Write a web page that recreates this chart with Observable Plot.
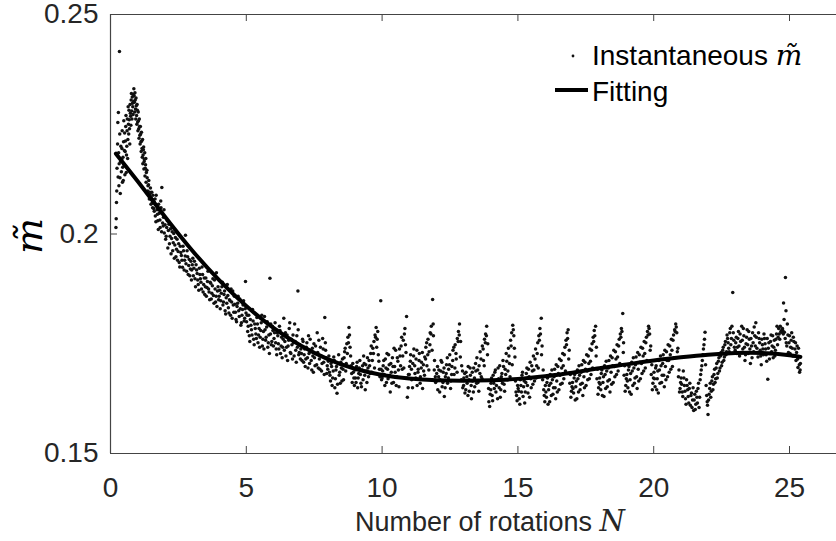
<!DOCTYPE html>
<html><head><meta charset="utf-8">
<script src="https://cdn.jsdelivr.net/npm/d3@7"></script>
<script src="https://cdn.jsdelivr.net/npm/@observablehq/plot@0.6"></script>
<style>html,body{margin:0;padding:0;background:#fff} svg{display:block}</style>
</head><body><div id="chart"></div>
<script>
const xTicks = [0, 5, 10, 15, 20, 25];
const yTicks = [0.15, 0.2, 0.25];
const xLabel = "Number of rotations ";
const xLabelVar = "N";
const yLabel = "m\u0303";
const legendDots = "Instantaneous ";
const legendLine = "Fitting";

// Fitting curve
const fitN = [0.2, 1, 2, 3, 4, 5, 6, 7, 8, 9, 10, 11, 12, 13, 14, 15, 16, 17, 18, 19, 20, 21, 22, 23, 24, 25, 25.4];
const fitM = [0.2183, 0.2120, 0.2040, 0.1963, 0.1895, 0.1836, 0.1786, 0.1746, 0.1715, 0.1693, 0.1679, 0.1671, 0.1667, 0.1666, 0.1667, 0.1670, 0.1676, 0.1684, 0.1694, 0.1703, 0.1712, 0.1719, 0.1725, 0.1729, 0.1729, 0.1724, 0.1720];

// Instantaneous m~ samples [N, m] (first pass)
const instantaneousA = [
[0.20,0.2015],[0.21,0.2035],[0.22,0.2072],[0.24,0.2150],[0.25,0.2182],[0.27,0.2254],[0.29,0.2277],[0.31,0.2110],[0.33,0.2416],[0.35,0.2128],[0.37,0.2165],[0.40,0.2142],[0.42,0.2195],[0.44,0.2118],[0.46,0.2175],[0.48,0.2210],[0.50,0.2158],[0.52,0.2230],[0.54,0.2188],[0.56,0.2245],[0.58,0.2140],[0.60,0.2200],
[0.62,0.2262],[0.64,0.2215],[0.66,0.2250],[0.68,0.2282],[0.70,0.2240],[0.72,0.2295],[0.74,0.2268],[0.76,0.2305],[0.78,0.2280],[0.80,0.2312],[0.82,0.2290],[0.84,0.2318],[0.86,0.2331],[0.88,0.2300],[0.90,0.2322],[0.92,0.2285],[0.94,0.2310],[0.96,0.2270],[0.98,0.2295],
[1.00,0.2255],[1.02,0.2278],[1.04,0.2240],[1.06,0.2262],[1.08,0.2225],[1.10,0.2245],[1.12,0.2210],[1.14,0.2232],[1.16,0.2195],[1.18,0.2215],[1.20,0.2180],[1.22,0.2198],[1.24,0.2165],[1.26,0.2185],[1.28,0.2150],[1.30,0.2172],[1.32,0.2140],[1.35,0.2128],[1.38,0.2110],[1.41,0.2122],[1.44,0.2095],[1.47,0.2105],[1.50,0.2082],[1.53,0.2070],[1.56,0.2088],[1.59,0.2058],
[1.62,0.2072],[1.65,0.2041],[1.68,0.2088],[1.71,0.2055],[1.74,0.2030],[1.77,0.2068],[1.80,0.2047],[1.83,0.2015],[1.86,0.2060],[1.89,0.2106],[1.92,0.2025],[1.95,0.2038],[1.98,0.2002],
[2.01,0.2021],[2.05,0.1995],[2.09,0.2030],[2.13,0.2008],[2.17,0.1978],[2.21,0.2012],[2.25,0.1990],[2.29,0.1962],[2.33,0.2001],[2.37,0.1975],[2.41,0.1948],[2.45,0.1988],[2.49,0.1960],[2.53,0.1935],[2.57,0.1972],[2.61,0.1951],[2.65,0.1924],[2.69,0.1962],[2.73,0.1940],[2.76,0.1997],[2.80,0.1915],[2.84,0.1948],[2.88,0.1928],[2.92,0.1905],[2.96,0.1938],[2.99,0.1918],
[3.03,0.1945],[3.07,0.1922],[3.11,0.1898],[3.15,0.1930],[3.19,0.1910],[3.23,0.1885],[3.27,0.1922],[3.31,0.1898],[3.35,0.1875],[3.39,0.1908],[3.43,0.1885],[3.47,0.1862],[3.51,0.1900],[3.55,0.1878],[3.59,0.1915],[3.63,0.1868],[3.67,0.1890],[3.71,0.1852],[3.75,0.1882],[3.79,0.1860],[3.83,0.1895],[3.87,0.1845],[3.90,0.1912],[3.94,0.1870],[3.98,0.1850],
[4.02,0.1872],[4.06,0.1848],[4.10,0.1880],[4.14,0.1838],[4.18,0.1862],[4.22,0.1825],[4.26,0.1855],[4.30,0.1885],[4.34,0.1832],[4.38,0.1850],[4.42,0.1815],[4.46,0.1845],[4.50,0.1870],[4.54,0.1822],[4.58,0.1840],[4.62,0.1805],[4.66,0.1835],[4.70,0.1858],[4.74,0.1812],[4.78,0.1830],[4.82,0.1798],[4.86,0.1828],[4.90,0.1848],[4.94,0.1808],[4.97,0.1892],[4.99,0.1820],
[5.03,0.1815],[5.07,0.1790],[5.11,0.1768],[5.15,0.1805],[5.19,0.1782],[5.23,0.1828],[5.27,0.1760],[5.31,0.1795],[5.35,0.1772],[5.39,0.1810],[5.43,0.1752],[5.47,0.1785],[5.51,0.1765],[5.55,0.1798],[5.59,0.1745],[5.63,0.1778],[5.67,0.1812],[5.71,0.1758],[5.75,0.1788],[5.79,0.1742],[5.83,0.1770],[5.87,0.1899],[5.90,0.1795],[5.94,0.1755],[5.98,0.1780],
[6.02,0.1762],[6.06,0.1798],[6.10,0.1738],[6.14,0.1775],[6.18,0.1750],[6.22,0.1790],[6.26,0.1728],[6.30,0.1765],[6.34,0.1742],[6.38,0.1808],[6.42,0.1755],[6.46,0.1722],[6.50,0.1770],[6.54,0.1745],[6.58,0.1785],[6.62,0.1730],[6.66,0.1760],[6.70,0.1715],[6.74,0.1752],[6.78,0.1795],[6.82,0.1735],[6.86,0.1768],[6.90,0.1870],[6.93,0.1725],[6.97,0.1748],
[7.01,0.1738],[7.05,0.1712],[7.09,0.1755],[7.13,0.1725],[7.17,0.1698],[7.21,0.1742],[7.25,0.1718],[7.29,0.1768],[7.33,0.1705],[7.37,0.1732],[7.41,0.1690],[7.45,0.1722],[7.49,0.1750],[7.53,0.1700],[7.57,0.1728],[7.61,0.1775],[7.65,0.1695],[7.69,0.1715],[7.73,0.1742],[7.77,0.1688],[7.81,0.1762],[7.85,0.1708],[7.89,0.1810],[7.92,0.1735],[7.96,0.1682],
[8.02,0.1710],[8.06,0.1685],[8.10,0.1665],[8.14,0.1698],[8.18,0.1672],[8.22,0.1720],[8.26,0.1650],[8.30,0.1690],[8.34,0.1637],[8.38,0.1705],[8.42,0.1678],[8.46,0.1660],[8.50,0.1695],[8.54,0.1715],[8.58,0.1668],[8.62,0.1732],[8.66,0.1688],[8.70,0.1750],[8.74,0.1765],[8.78,0.1787],[8.82,0.1742],[8.86,0.1700],[8.90,0.1662],[8.94,0.1685],[8.98,0.1655],
[9.02,0.1672],[9.06,0.1698],[9.10,0.1650],[9.14,0.1682],[9.18,0.1712],[9.22,0.1660],[9.26,0.1690],[9.30,0.1668],[9.34,0.1705],[9.38,0.1645],[9.42,0.1688],[9.46,0.1718],[9.50,0.1675],[9.54,0.1700],[9.58,0.1728],[9.62,0.1685],[9.66,0.1740],[9.70,0.1755],[9.74,0.1770],[9.78,0.1787],[9.82,0.1760],[9.86,0.1725],[9.90,0.1692],[9.95,0.1848],[9.98,0.1668],
[10.02,0.1688],[10.06,0.1712],[10.10,0.1655],[10.14,0.1695],[10.18,0.1728],[10.22,0.1670],[10.26,0.1702],[10.30,0.1640],[10.34,0.1685],[10.38,0.1718],[10.42,0.1662],[10.46,0.1698],[10.50,0.1735],[10.54,0.1675],[10.58,0.1710],[10.62,0.1652],[10.66,0.1722],[10.70,0.1745],[10.74,0.1692],[10.78,0.1758],[10.82,0.1772],[10.86,0.1748],[10.90,0.1812],[10.93,0.1628],[10.97,0.1680],
[11.01,0.1698],[11.05,0.1725],[11.09,0.1668],[11.13,0.1705],[11.17,0.1738],[11.21,0.1682],[11.25,0.1715],[11.29,0.1655],[11.33,0.1692],[11.37,0.1728],[11.41,0.1675],[11.45,0.1708],[11.49,0.1648],[11.53,0.1688],[11.57,0.1720],[11.61,0.1742],[11.65,0.1700],[11.69,0.1760],[11.73,0.1732],[11.77,0.1775],[11.81,0.1790],[11.86,0.1851],[11.89,0.1768],[11.93,0.1712],[11.97,0.1662],
[12.01,0.1682],[12.05,0.1645],[12.09,0.1690],[12.13,0.1668],[12.17,0.1712],[12.21,0.1652],[12.25,0.1685],[12.29,0.1630],[12.33,0.1675],[12.37,0.1702],[12.41,0.1660],[12.45,0.1692],[12.49,0.1725],[12.53,0.1665],[12.57,0.1698],[12.61,0.1735],[12.65,0.1680],[12.69,0.1748],[12.73,0.1715],[12.77,0.1762],[12.81,0.1778],[12.85,0.1795],[12.89,0.1755],[12.93,0.1700],[12.97,0.1650],
[13.01,0.1672],[13.05,0.1638],[13.09,0.1685],[13.13,0.1660],[13.17,0.1698],[13.21,0.1642],[13.25,0.1678],[13.29,0.1625],[13.33,0.1665],[13.37,0.1695],[13.41,0.1652],[13.45,0.1688],[13.49,0.1718],[13.53,0.1662],[13.57,0.1700],[13.61,0.1732],[13.65,0.1675],[13.69,0.1745],[13.73,0.1712],[13.77,0.1760],[13.81,0.1772],[13.85,0.1790],[13.89,0.1750],[13.93,0.1618],[13.96,0.1607],
[14.01,0.1660],[14.05,0.1632],[14.09,0.1678],[14.13,0.1648],[14.17,0.1690],[14.21,0.1655],[14.25,0.1625],[14.29,0.1670],[14.33,0.1700],[14.37,0.1645],[14.41,0.1682],[14.45,0.1712],[14.49,0.1658],[14.53,0.1692],[14.57,0.1728],[14.61,0.1668],[14.65,0.1740],[14.69,0.1705],[14.73,0.1758],[14.77,0.1775],[14.81,0.1792],[14.85,0.1768],[14.89,0.1720],[14.93,0.1640],[14.97,0.1620],
[15.01,0.1648],[15.05,0.1625],[15.09,0.1668],[15.13,0.1640],[15.17,0.1685],[15.21,0.1652],[15.25,0.1615],[15.29,0.1662],[15.33,0.1695],[15.37,0.1638],[15.41,0.1675],[15.45,0.1708],[15.49,0.1650],[15.53,0.1688],[15.57,0.1722],[15.61,0.1665],[15.65,0.1738],[15.69,0.1700],[15.73,0.1752],[15.77,0.1768],[15.81,0.1785],[15.86,0.1808],[15.89,0.1745],[15.93,0.1690],[15.97,0.1632],
[16.01,0.1655],[16.05,0.1628],[16.09,0.1672],[16.13,0.1645],[16.17,0.1618],[16.21,0.1660],[16.25,0.1690],[16.29,0.1635],[16.33,0.1675],[16.37,0.1650],[16.41,0.1702],[16.45,0.1640],[16.49,0.1682],[16.53,0.1715],[16.57,0.1658],[16.61,0.1695],[16.65,0.1728],[16.69,0.1670],[16.73,0.1742],[16.77,0.1758],[16.81,0.1775],[16.85,0.1782],[16.89,0.1735],[16.93,0.1680],[16.97,0.1642],
[17.01,0.1662],[17.05,0.1638],[17.09,0.1680],[17.13,0.1652],[17.17,0.1625],[17.21,0.1670],[17.25,0.1700],[17.29,0.1645],[17.33,0.1685],[17.37,0.1660],[17.41,0.1712],[17.45,0.1650],[17.49,0.1692],[17.53,0.1725],[17.57,0.1668],[17.61,0.1705],[17.65,0.1738],[17.69,0.1680],[17.73,0.1750],[17.77,0.1765],[17.81,0.1780],[17.86,0.1790],[17.89,0.1742],[17.93,0.1692],[17.97,0.1650],
[18.01,0.1672],[18.05,0.1645],[18.09,0.1690],[18.13,0.1662],[18.17,0.1630],[18.21,0.1680],[18.25,0.1710],[18.29,0.1652],[18.33,0.1695],[18.37,0.1668],[18.41,0.1722],[18.45,0.1658],[18.49,0.1700],[18.53,0.1735],[18.57,0.1675],[18.61,0.1715],[18.65,0.1748],[18.69,0.1688],[18.73,0.1760],[18.77,0.1772],[18.81,0.1785],[18.86,0.1819],[18.89,0.1752],[18.93,0.1700],[18.97,0.1655],
[19.01,0.1680],[19.05,0.1650],[19.09,0.1698],[19.13,0.1668],[19.17,0.1635],[19.21,0.1688],[19.25,0.1718],[19.29,0.1660],[19.33,0.1702],[19.37,0.1675],[19.41,0.1730],[19.45,0.1665],[19.49,0.1708],[19.53,0.1742],[19.57,0.1682],[19.61,0.1722],[19.65,0.1755],[19.69,0.1695],[19.73,0.1765],[19.77,0.1778],[19.81,0.1790],[19.85,0.1772],[19.89,0.1745],[19.93,0.1702],[19.97,0.1660],
[20.01,0.1685],[20.05,0.1652],[20.09,0.1700],[20.13,0.1670],[20.17,0.1638],[20.21,0.1690],[20.25,0.1722],[20.29,0.1662],[20.33,0.1705],[20.37,0.1678],[20.41,0.1735],[20.45,0.1668],[20.49,0.1712],[20.53,0.1748],[20.57,0.1685],[20.61,0.1725],[20.65,0.1760],[20.69,0.1698],[20.73,0.1770],[20.77,0.1782],[20.81,0.1795],[20.85,0.1775],[20.89,0.1740],[20.93,0.1690],[20.97,0.1648],
[21.01,0.1672],[21.05,0.1640],[21.09,0.1688],[21.13,0.1655],[21.17,0.1625],[21.21,0.1668],[21.25,0.1645],[21.29,0.1615],[21.33,0.1660],[21.37,0.1632],[21.41,0.1605],[21.45,0.1650],[21.49,0.1622],[21.53,0.1600],[21.57,0.1642],[21.61,0.1615],[21.65,0.1660],[21.69,0.1628],[21.73,0.1680],[21.77,0.1700],[21.81,0.1725],[21.85,0.1748],[21.89,0.1776],[21.93,0.1655],[21.97,0.1618],
[22.00,0.1589],[22.04,0.1635],[22.08,0.1660],[22.12,0.1642],[22.16,0.1675],[22.20,0.1658],[22.24,0.1692],[22.28,0.1670],[22.32,0.1705],[22.36,0.1682],[22.40,0.1718],[22.44,0.1695],[22.48,0.1730],[22.52,0.1708],[22.56,0.1742],[22.60,0.1720],[22.64,0.1755],[22.68,0.1732],[22.72,0.1762],[22.76,0.1740],[22.80,0.1775],[22.84,0.1748],[22.88,0.1790],[22.91,0.1867],[22.95,0.1758],
[23.00,0.1735],[23.04,0.1765],[23.08,0.1742],[23.12,0.1778],[23.16,0.1722],[23.20,0.1755],[23.24,0.1790],[23.28,0.1738],[23.32,0.1768],[23.36,0.1712],[23.40,0.1750],[23.44,0.1782],[23.48,0.1728],[23.52,0.1760],[23.56,0.1705],[23.60,0.1745],[23.64,0.1775],[23.68,0.1732],[23.72,0.1768],[23.76,0.1798],[23.80,0.1740],[23.84,0.1720],[23.88,0.1762],[23.92,0.1735],[23.96,0.1702],
[24.00,0.1748],[24.04,0.1725],[24.08,0.1762],[24.12,0.1738],[24.16,0.1710],[24.20,0.1669],[24.24,0.1752],[24.28,0.1728],[24.32,0.1770],[24.36,0.1745],[24.40,0.1718],[24.44,0.1758],[24.48,0.1735],[24.52,0.1772],[24.56,0.1748],[24.60,0.1785],[24.64,0.1760],[24.68,0.1778],[24.72,0.1782],[24.75,0.1780],[24.78,0.1843],[24.81,0.1776],[24.85,0.1901],[24.88,0.1752],[24.92,0.1795],[24.96,0.1730],
[25.00,0.1768],[25.04,0.1742],[25.08,0.1775],[25.12,0.1722],[25.16,0.1755],[25.20,0.1738],[25.24,0.1712],[25.28,0.1745],[25.31,0.1696],[25.34,0.1720],[25.37,0.1685],[25.40,0.1705]
];

// Instantaneous m~ samples [N, m] (second pass, in between)
const instantaneousB = [
[0.23,0.2098],[0.26,0.2205],[0.28,0.2130],[0.30,0.2185],[0.32,0.2160],[0.34,0.2228],[0.36,0.2092],[0.38,0.2200],[0.41,0.2170],[0.43,0.2235],[0.45,0.2152],[0.47,0.2122],[0.49,0.2258],[0.51,0.2190],[0.53,0.2135],[0.55,0.2212],[0.57,0.2270],[0.59,0.2180],[0.61,0.2235],[0.63,0.2172],[0.65,0.2290],[0.67,0.2228],[0.69,0.2260],[0.71,0.2205],[0.73,0.2275],[0.75,0.2248],[0.77,0.2320],[0.79,0.2262],[0.81,0.2298],[0.83,0.2272],[0.85,0.2302],[0.87,0.2315],[0.89,0.2278],[0.91,0.2305],[0.93,0.2262],[0.95,0.2292],[0.97,0.2250],[0.99,0.2282],[1.01,0.2235],[1.03,0.2258],[1.05,0.2218],[1.07,0.2245],[1.09,0.2205],[1.11,0.2228],[1.13,0.2188],[1.15,0.2212],[1.17,0.2175],[1.19,0.2160],[1.21,0.2192],[1.23,0.2148],[1.25,0.2170],[1.27,0.2132],[1.29,0.2158],[1.31,0.2118],[1.34,0.2145],[1.37,0.2098],[1.40,0.2112],[1.43,0.2080],[1.46,0.2092],[1.49,0.2068],[1.52,0.2095],[1.55,0.2060],[1.58,0.2078],
[1.61,0.2052],[1.64,0.2080],[1.67,0.2028],[1.70,0.2065],[1.73,0.2045],[1.76,0.2010],[1.79,0.2058],[1.82,0.2032],[1.85,0.2075],[1.88,0.2005],[1.91,0.2048],[1.94,0.2018],[1.97,0.2055],[2.03,0.1988],[2.07,0.2015],[2.11,0.1968],[2.15,0.2022],[2.19,0.1995],[2.23,0.1955],[2.27,0.2005],[2.31,0.1980],[2.35,0.1945],[2.39,0.1992],[2.43,0.1965],[2.47,0.1940],[2.51,0.1978],[2.55,0.1925],[2.59,0.1958],[2.63,0.1940],[2.67,0.1972],[2.71,0.1918],[2.75,0.1950],[2.78,0.1932],[2.82,0.1962],[2.86,0.1908],[2.90,0.1942],[2.94,0.1920],[2.98,0.1895],
[3.01,0.1930],[3.05,0.1905],[3.09,0.1938],[3.13,0.1880],[3.17,0.1918],[3.21,0.1895],[3.25,0.1872],[3.29,0.1908],[3.33,0.1890],[3.37,0.1925],[3.41,0.1868],[3.45,0.1900],[3.49,0.1880],[3.53,0.1858],[3.57,0.1892],[3.61,0.1875],[3.65,0.1850],[3.69,0.1888],[3.73,0.1865],[3.77,0.1898],[3.81,0.1842],[3.85,0.1875],[3.89,0.1858],[3.92,0.1835],[3.96,0.1880],
[4.00,0.1858],[4.04,0.1830],[4.08,0.1865],[4.12,0.1890],[4.16,0.1845],[4.20,0.1870],[4.24,0.1818],[4.28,0.1842],[4.32,0.1860],[4.36,0.1820],[4.40,0.1848],[4.44,0.1875],[4.48,0.1808],[4.52,0.1838],[4.56,0.1858],[4.60,0.1822],[4.64,0.1800],[4.68,0.1842],[4.72,0.1825],[4.76,0.1852],[4.80,0.1792],[4.84,0.1815],[4.88,0.1838],[4.92,0.1802],[4.96,0.1830],
[5.01,0.1800],[5.05,0.1778],[5.09,0.1815],[5.13,0.1755],[5.17,0.1792],[5.21,0.1770],[5.25,0.1802],[5.29,0.1748],[5.33,0.1785],[5.37,0.1762],[5.41,0.1795],[5.45,0.1770],[5.49,0.1742],[5.53,0.1780],[5.57,0.1815],[5.61,0.1760],[5.65,0.1738],[5.69,0.1782],[5.73,0.1765],[5.77,0.1800],[5.81,0.1752],[5.85,0.1728],[5.89,0.1772],[5.92,0.1748],[5.96,0.1790],
[6.00,0.1745],[6.04,0.1775],[6.08,0.1752],[6.12,0.1725],[6.16,0.1768],[6.20,0.1738],[6.24,0.1780],[6.28,0.1745],[6.32,0.1718],[6.36,0.1760],[6.40,0.1735],[6.44,0.1775],[6.48,0.1742],[6.52,0.1712],[6.56,0.1758],[6.60,0.1798],[6.64,0.1728],[6.68,0.1748],[6.72,0.1770],[6.76,0.1722],[6.80,0.1755],[6.84,0.1708],[6.88,0.1742],[6.91,0.1782],[6.95,0.1730],[6.99,0.1715],
[7.03,0.1728],[7.07,0.1760],[7.11,0.1708],[7.15,0.1738],[7.19,0.1715],[7.23,0.1752],[7.27,0.1695],[7.31,0.1728],[7.35,0.1760],[7.39,0.1712],[7.43,0.1740],[7.47,0.1685],[7.51,0.1718],[7.55,0.1745],[7.59,0.1702],[7.63,0.1730],[7.67,0.1758],[7.71,0.1692],[7.75,0.1722],[7.79,0.1705],[7.83,0.1738],[7.87,0.1680],[7.91,0.1752],[7.94,0.1718],[7.98,0.1700],
[8.00,0.1692],[8.04,0.1722],[8.08,0.1678],[8.12,0.1705],[8.16,0.1655],[8.20,0.1688],[8.24,0.1712],[8.28,0.1670],[8.32,0.1698],[8.36,0.1658],[8.40,0.1725],[8.44,0.1685],[8.48,0.1708],[8.52,0.1665],[8.56,0.1692],[8.60,0.1718],[8.64,0.1740],[8.68,0.1705],[8.72,0.1728],[8.76,0.1752],[8.80,0.1770],[8.84,0.1722],[8.88,0.1682],[8.92,0.1705],[8.96,0.1672],
[9.00,0.1690],[9.04,0.1662],[9.08,0.1708],[9.12,0.1672],[9.16,0.1695],[9.20,0.1680],[9.24,0.1652],[9.28,0.1700],[9.32,0.1722],[9.36,0.1678],[9.40,0.1702],[9.44,0.1662],[9.48,0.1695],[9.52,0.1712],[9.56,0.1682],[9.60,0.1745],[9.64,0.1712],[9.68,0.1728],[9.72,0.1695],[9.76,0.1765],[9.80,0.1742],[9.84,0.1778],[9.88,0.1710],[9.92,0.1675],[9.96,0.1692],
[10.00,0.1672],[10.04,0.1700],[10.08,0.1680],[10.12,0.1715],[10.16,0.1662],[10.20,0.1692],[10.24,0.1725],[10.28,0.1678],[10.32,0.1705],[10.36,0.1660],[10.40,0.1698],[10.44,0.1740],[10.48,0.1685],[10.52,0.1655],[10.56,0.1718],[10.60,0.1690],[10.64,0.1738],[10.68,0.1700],[10.72,0.1765],[10.76,0.1722],[10.80,0.1695],[10.84,0.1785],[10.88,0.1730],[10.92,0.1672],[10.96,0.1650],
[11.00,0.1680],[11.04,0.1710],[11.08,0.1692],[11.12,0.1650],[11.16,0.1722],[11.20,0.1700],[11.24,0.1672],[11.28,0.1735],[11.32,0.1685],[11.36,0.1712],[11.40,0.1660],[11.44,0.1695],[11.48,0.1730],[11.52,0.1702],[11.56,0.1678],[11.60,0.1715],[11.64,0.1752],[11.68,0.1725],[11.72,0.1690],[11.76,0.1748],[11.80,0.1772],[11.84,0.1735],[11.88,0.1795],[11.92,0.1690],[11.96,0.1675],
[12.00,0.1665],[12.04,0.1698],[12.08,0.1675],[12.12,0.1640],[12.16,0.1688],[12.20,0.1708],[12.24,0.1662],[12.28,0.1695],[12.32,0.1650],[12.36,0.1682],[12.40,0.1718],[12.44,0.1672],[12.48,0.1702],[12.52,0.1648],[12.56,0.1680],[12.60,0.1712],[12.64,0.1742],[12.68,0.1695],[12.72,0.1728],[12.76,0.1685],[12.80,0.1755],[12.84,0.1770],[12.88,0.1720],[12.92,0.1668],[12.96,0.1688],
[13.00,0.1655],[13.04,0.1682],[13.08,0.1645],[13.12,0.1675],[13.16,0.1632],[13.20,0.1668],[13.24,0.1695],[13.28,0.1655],[13.32,0.1685],[13.36,0.1640],[13.40,0.1672],[13.44,0.1705],[13.48,0.1660],[13.52,0.1690],[13.56,0.1642],[13.60,0.1682],[13.64,0.1715],[13.68,0.1670],[13.72,0.1738],[13.76,0.1700],[13.80,0.1752],[13.84,0.1768],[13.88,0.1725],[13.92,0.1648],[13.98,0.1635],
[14.00,0.1645],[14.03,0.1672],[14.07,0.1620],[14.11,0.1660],[14.15,0.1685],[14.19,0.1640],[14.23,0.1668],[14.27,0.1695],[14.31,0.1650],[14.35,0.1628],[14.39,0.1675],[14.43,0.1660],[14.47,0.1698],[14.51,0.1642],[14.55,0.1680],[14.59,0.1710],[14.63,0.1688],[14.67,0.1722],[14.71,0.1675],[14.75,0.1745],[14.79,0.1702],[14.83,0.1782],[14.87,0.1740],[14.91,0.1665],[14.95,0.1632],[14.99,0.1655],
[15.03,0.1642],[15.07,0.1612],[15.11,0.1655],[15.15,0.1678],[15.19,0.1630],[15.23,0.1665],[15.27,0.1640],[15.31,0.1682],[15.35,0.1655],[15.39,0.1692],[15.43,0.1628],[15.47,0.1670],[15.51,0.1700],[15.55,0.1658],[15.59,0.1690],[15.63,0.1715],[15.67,0.1672],[15.71,0.1728],[15.75,0.1695],[15.79,0.1758],[15.83,0.1772],[15.87,0.1725],[15.91,0.1668],[15.95,0.1645],[15.99,0.1618],
[16.03,0.1640],[16.07,0.1662],[16.11,0.1612],[16.15,0.1655],[16.19,0.1680],[16.23,0.1632],[16.27,0.1668],[16.31,0.1650],[16.35,0.1692],[16.39,0.1625],[16.43,0.1665],[16.47,0.1698],[16.51,0.1645],[16.55,0.1678],[16.59,0.1712],[16.63,0.1660],[16.67,0.1700],[16.71,0.1725],[16.75,0.1688],[16.79,0.1748],[16.83,0.1762],[16.87,0.1715],[16.91,0.1660],[16.95,0.1628],[16.99,0.1652],
[17.03,0.1648],[17.07,0.1672],[17.11,0.1622],[17.15,0.1665],[17.19,0.1690],[17.23,0.1640],[17.27,0.1678],[17.31,0.1658],[17.35,0.1702],[17.39,0.1632],[17.43,0.1675],[17.47,0.1708],[17.51,0.1655],[17.55,0.1688],[17.59,0.1722],[17.63,0.1670],[17.67,0.1710],[17.71,0.1735],[17.75,0.1695],[17.79,0.1755],[17.83,0.1768],[17.88,0.1722],[17.91,0.1670],[17.95,0.1635],[17.99,0.1662],
[18.03,0.1658],[18.07,0.1682],[18.11,0.1632],[18.15,0.1675],[18.19,0.1700],[18.23,0.1648],[18.27,0.1688],[18.31,0.1665],[18.35,0.1712],[18.39,0.1640],[18.43,0.1685],[18.47,0.1718],[18.51,0.1662],[18.55,0.1698],[18.59,0.1732],[18.63,0.1680],[18.67,0.1720],[18.71,0.1745],[18.75,0.1705],[18.79,0.1765],[18.83,0.1778],[18.88,0.1730],[18.91,0.1678],[18.95,0.1642],[18.99,0.1670],
[19.03,0.1665],[19.07,0.1690],[19.11,0.1640],[19.15,0.1682],[19.19,0.1708],[19.23,0.1655],[19.27,0.1695],[19.31,0.1672],[19.35,0.1720],[19.39,0.1648],[19.43,0.1692],[19.47,0.1725],[19.51,0.1670],[19.55,0.1705],[19.59,0.1740],[19.63,0.1688],[19.67,0.1728],[19.71,0.1752],[19.75,0.1712],[19.79,0.1770],[19.83,0.1785],[19.87,0.1735],[19.91,0.1680],[19.95,0.1645],[19.99,0.1672],
[20.03,0.1670],[20.07,0.1695],[20.11,0.1645],[20.15,0.1688],[20.19,0.1712],[20.23,0.1660],[20.27,0.1700],[20.31,0.1678],[20.35,0.1725],[20.39,0.1652],[20.43,0.1698],[20.47,0.1732],[20.51,0.1675],[20.55,0.1712],[20.59,0.1745],[20.63,0.1692],[20.67,0.1735],[20.71,0.1758],[20.75,0.1718],[20.79,0.1778],[20.83,0.1788],[20.87,0.1732],[20.91,0.1675],[20.95,0.1640],[20.99,0.1662],
[21.03,0.1658],[21.07,0.1630],[21.11,0.1672],[21.15,0.1642],[21.19,0.1612],[21.23,0.1655],[21.27,0.1630],[21.31,0.1648],[21.35,0.1610],[21.39,0.1638],[21.43,0.1622],[21.47,0.1598],[21.51,0.1635],[21.55,0.1612],[21.59,0.1628],[21.63,0.1648],[21.67,0.1605],[21.71,0.1668],[21.75,0.1690],[21.79,0.1712],[21.83,0.1738],[21.87,0.1760],[21.91,0.1702],[21.95,0.1632],[21.98,0.1610],
[22.02,0.1622],[22.06,0.1648],[22.10,0.1628],[22.14,0.1665],[22.18,0.1645],[22.22,0.1680],[22.26,0.1662],[22.30,0.1695],[22.34,0.1672],[22.38,0.1710],[22.42,0.1688],[22.46,0.1722],[22.50,0.1700],[22.54,0.1735],[22.58,0.1712],[22.62,0.1748],[22.66,0.1725],[22.70,0.1770],[22.74,0.1752],[22.78,0.1732],[22.82,0.1785],[22.86,0.1762],[22.93,0.1775],[22.97,0.1742],
[23.02,0.1752],[23.06,0.1728],[23.10,0.1762],[23.14,0.1745],[23.18,0.1772],[23.22,0.1730],[23.26,0.1758],[23.30,0.1785],[23.34,0.1742],[23.38,0.1725],[23.42,0.1765],[23.46,0.1748],[23.50,0.1778],[23.54,0.1738],[23.58,0.1762],[23.62,0.1718],[23.66,0.1752],[23.70,0.1788],[23.74,0.1745],[23.78,0.1765],[23.82,0.1730],[23.86,0.1775],[23.90,0.1752],[23.94,0.1722],[23.98,0.1760],
[24.02,0.1738],[24.06,0.1772],[24.10,0.1750],[24.14,0.1725],[24.18,0.1762],[24.22,0.1740],[24.26,0.1715],[24.30,0.1755],[24.34,0.1732],[24.38,0.1768],[24.42,0.1742],[24.46,0.1722],[24.50,0.1760],[24.54,0.1790],[24.58,0.1765],[24.62,0.1772],[24.66,0.1790],[24.70,0.1776],[24.74,0.1785],[24.77,0.1772],[24.80,0.1805],[24.84,0.1762],[24.87,0.1825],[24.90,0.1745],[24.94,0.1770],[24.98,0.1752],
[25.02,0.1728],[25.06,0.1758],[25.10,0.1740],[25.14,0.1765],[25.18,0.1722],[25.22,0.1752],[25.26,0.1730],[25.30,0.1715],[25.33,0.1740],[25.36,0.1702],[25.39,0.1690]
];

const pts = instantaneousA.concat(instantaneousB).map(([n, m]) => ({n, m}));
const fit = fitN.map((n, i) => ({n, m: fitM[i]}));

const W = 836, H = 541, ML = 110, MT = 14, MB = 88;
const innerH = H - MT - MB, innerW = W - ML;
const sans = '"Liberation Sans", Arial, Helvetica, sans-serif';
const serif = '"DejaVu Serif", "Liberation Serif", serif';
const ink = "#262626", frameColor = "#444";

const svg = Plot.plot({
  width: W, height: H,
  marginLeft: ML, marginRight: 0, marginTop: MT, marginBottom: MB,
  x: {domain: [0, 26.73]},
  y: {domain: [yTicks[0], yTicks[yTicks.length - 1]]},
  style: {fontFamily: sans, color: ink, background: "#fff", overflow: "visible"},
  marks: [
    Plot.dot(pts, {x: "n", y: "m", r: 1.75, fill: "#111", stroke: null}),
    Plot.line(fit, {x: "n", y: "m", stroke: "#000", strokeWidth: 4, curve: "natural"}),
    Plot.ruleY([yTicks[0], yTicks[yTicks.length - 1]], {stroke: frameColor, strokeWidth: 1.2}),
    Plot.ruleX([xTicks[0]], {stroke: frameColor, strokeWidth: 1.2}),
    Plot.tickX(xTicks, {x: d => d, stroke: frameColor, insetTop: innerH - 7}),
    Plot.tickX(xTicks, {x: d => d, stroke: frameColor, insetBottom: innerH - 7}),
    Plot.tickY(yTicks, {y: d => d, stroke: frameColor, insetRight: innerW - 7}),
    Plot.axisX({ticks: xTicks, tickSize: 0, tickPadding: 24, fontSize: 28, label: null, tickFormat: d => String(d)}),
    Plot.axisY({ticks: yTicks, tickSize: 0, tickPadding: 12, fontSize: 28, label: null, tickFormat: d => String(d)})
  ]
});

const s = d3.select(svg);
// x axis title
const xt = s.append("text").attr("x", 490).attr("y", 531).attr("text-anchor", "middle")
  .attr("fill", ink).style("font-family", sans).style("font-size", "27px");
xt.append("tspan").text(xLabel);
xt.append("tspan").text(xLabelVar).style("font-family", serif).style("font-style", "italic").style("font-size", "29px");
// y axis title
s.append("text").attr("transform", "translate(42,236) rotate(-90)").attr("text-anchor", "middle")
  .attr("fill", "#000").style("font-family", serif).style("font-style", "italic").style("font-size", "38px").text(yLabel);
// legend
const lg = s.append("g").attr("text-anchor", "start");
lg.append("circle").attr("cx", 573).attr("cy", 56).attr("r", 1.4).attr("fill", "#111");
const t1 = lg.append("text").attr("x", 592).attr("y", 65).attr("text-anchor", "start").attr("fill", "#000")
  .style("font-family", sans).style("font-size", "28px");
t1.append("tspan").text(legendDots);
t1.append("tspan").text(yLabel).style("font-family", serif).style("font-style", "italic");
lg.append("line").attr("x1", 555).attr("x2", 588).attr("y1", 90).attr("y2", 90).attr("stroke", "#000").attr("stroke-width", 4);
lg.append("text").attr("x", 592).attr("y", 101).attr("text-anchor", "start").attr("fill", "#000")
  .style("font-family", sans).style("font-size", "28px").text(legendLine);

document.getElementById("chart").appendChild(svg);
</script>
</body></html>
